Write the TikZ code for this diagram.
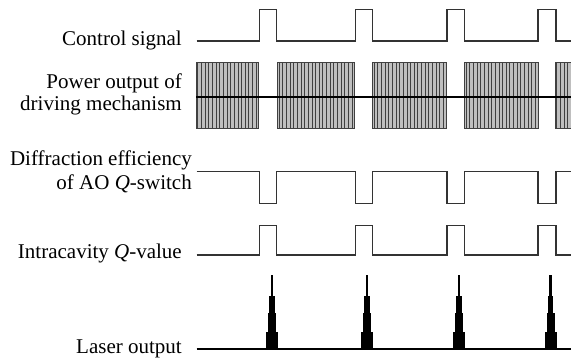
\documentclass[tikz,border=0pt]{standalone}
\usepackage{fontspec}
\setmainfont{Liberation Serif}
\begin{document}
\begin{tikzpicture}[x=1pt,y=-1pt,
  lbl/.style={anchor=base east, inner sep=0pt, font=\fontsize{21}{24}\selectfont},
  sig/.style={line width=1.4pt, draw=black!80},
  blockfill/.style={fill=gray!50},
  stripe/.style={draw=black!75, line width=0.9pt},
  blockedge/.style={draw=black!75, line width=1pt},
  peak/.style={fill=black}]
\useasboundingbox (0,0) rectangle (571,363);
% labels
\node[lbl] (l1) at (182,46) {Control signal};
\node[lbl] (l2a) at (182,88.5) {Power output of};
\node[lbl] (l2b) at (182,111) {driving mechanism};
\node[lbl] (l3a) at (192,166) {Diffraction efficiency};
\node[lbl] (l3b) at (192,190) {of AO \textit{Q}-switch};
\node[lbl] (l4) at (182,258.5) {Intracavity \textit{Q}-value};
\node[lbl] (l5) at (182,353.5) {Laser output};
% control signal
\draw[sig] (196.7,41)
  \foreach \r/\f in {259.3/276.7, 355.3/372.3, 447/464.7, 538/556} {
    -- (\r,41) -- (\r,9.5) -- (\f,9.5) -- (\f,41) } -- (571,41);
% power output blocks
\foreach \a/\b in {196/258.7, 277.3/354, 372.3/446, 464.3/538.7, 555/571.5} {
  \fill[blockfill] (\a,63) rectangle (\b,128.7);
  \begin{scope}
    \clip (\a,63) rectangle (\b,128.7);
    \foreach \x in {0,3.65,...,85} \draw[stripe] (\a+1.8+\x,63) -- (\a+1.8+\x,128.7);
  \end{scope}
  \draw[blockedge] (\a,63) rectangle (\b,128.7);
}
\draw[line width=1.1pt, black] (196,97) -- (571,97);
% diffraction efficiency
\draw[sig] (196.7,171.7)
  \foreach \r/\f in {259.3/276.7, 355.3/372.3, 447/464.7, 538/556} {
    -- (\r,171.7) -- (\r,203.3) -- (\f,203.3) -- (\f,171.7) } -- (571,171.7);
% intracavity Q
\draw[sig] (196.7,255)
  \foreach \r/\f in {259.3/276.7, 355.3/372.3, 447/464.7, 538/556} {
    -- (\r,255) -- (\r,225.7) -- (\f,225.7) -- (\f,255) } -- (571,255);
% laser output
\draw[line width=1.6pt, black] (196.7,349.3) -- (571,349.3);
\foreach \c in {271.8, 367, 459, 550.7} {
  \fill[peak] (\c-5.8,349.3) rectangle (\c+5.8,331.7);
  \fill[peak] (\c-4.2,331.9) rectangle (\c+4.2,313.3);
  \fill[peak] (\c-2.7,313.5) rectangle (\c+2.7,295.7);
  \fill[peak] (\c-1.3,295.9) rectangle (\c+1.3,275.5);
}
\end{tikzpicture}
\end{document}
